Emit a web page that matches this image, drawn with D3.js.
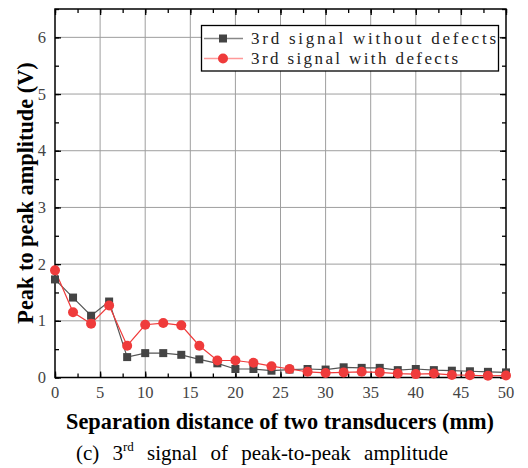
<!DOCTYPE html>
<html><head><meta charset="utf-8">
<script src="https://cdn.jsdelivr.net/npm/d3@7/dist/d3.min.js"></script>
<style>html,body{margin:0;padding:0;background:#fff;} .serif{font-family:"Liberation Serif","Times New Roman",serif;}</style>
</head><body>
<svg id="c" width="528" height="468"></svg>
<script>
const distances = [0,2,4,6,8,10,12,14,16,18,20,22,24,26,28,30,32,34,36,38,40,42,44,46,48,50];
const withoutDefects = [1.73,1.41,1.09,1.34,0.36,0.43,0.43,0.40,0.32,0.25,0.15,0.15,0.12,0.14,0.15,0.14,0.18,0.17,0.17,0.13,0.15,0.13,0.12,0.11,0.10,0.09];
const withDefects = [1.89,1.15,0.95,1.27,0.56,0.93,0.96,0.92,0.56,0.30,0.30,0.26,0.20,0.15,0.10,0.08,0.09,0.10,0.09,0.07,0.06,0.07,0.045,0.04,0.03,0.035];
const xTicks = [0,5,10,15,20,25,30,35,40,45,50];
const yTicks = [0,1,2,3,4,5,6];
const seriesNames = ["3rd signal without defects","3rd signal with defects"];

const svg = d3.select("#c");
const L=55, R=506, T=9, B=377.5;
const x = d3.scaleLinear().domain([0,50]).range([L,R]);
const y = d3.scaleLinear().domain([0,6.5]).range([B,T]);

const g = svg.append("g");
g.selectAll(".gx").data(xTicks.slice(1,-1)).enter().append("line")
  .attr("x1",d=>x(d)).attr("x2",d=>x(d)).attr("y1",T).attr("y2",B)
  .attr("stroke","#9e9e9e").attr("stroke-width",1);
g.selectAll(".gy").data(yTicks.slice(1)).enter().append("line")
  .attr("x1",L).attr("x2",R).attr("y1",d=>y(d)).attr("y2",d=>y(d))
  .attr("stroke","#9e9e9e").attr("stroke-width",1);

const minorX = d3.range(0,50.1,2.5), minorY = d3.range(0,6.51,0.5);
function style(sel){sel.select(".domain").remove(); sel.selectAll("line").attr("stroke","#000").attr("stroke-width",1.3);}
svg.append("g").attr("transform",`translate(0,${B})`).call(d3.axisBottom(x).tickValues(minorX).tickSize(-4).tickFormat("")).call(style);
svg.append("g").attr("transform",`translate(0,${T})`).call(d3.axisTop(x).tickValues(minorX).tickSize(-4).tickFormat("")).call(style);
svg.append("g").attr("transform",`translate(${L},0)`).call(d3.axisLeft(y).tickValues(minorY).tickSize(-4).tickFormat("")).call(style);
svg.append("g").attr("transform",`translate(${R},0)`).call(d3.axisRight(y).tickValues(minorY).tickSize(-4).tickFormat("")).call(style);
svg.append("g").attr("transform",`translate(0,${B})`).call(d3.axisBottom(x).tickValues(xTicks).tickSize(-6).tickFormat("")).call(style);
svg.append("g").attr("transform",`translate(0,${T})`).call(d3.axisTop(x).tickValues(xTicks).tickSize(-6).tickFormat("")).call(style);
svg.append("g").attr("transform",`translate(${L},0)`).call(d3.axisLeft(y).tickValues(yTicks).tickSize(-6).tickFormat("")).call(style);
svg.append("g").attr("transform",`translate(${R},0)`).call(d3.axisRight(y).tickValues(yTicks).tickSize(-6).tickFormat("")).call(style);

svg.append("rect").attr("x",L).attr("y",T).attr("width",R-L).attr("height",B-T)
  .attr("fill","none").attr("stroke","#000").attr("stroke-width",1.5);

svg.append("g").selectAll("text").data(xTicks).enter().append("text").attr("class","serif")
  .attr("x",d=>x(d)).attr("y",398).attr("text-anchor","middle")
  .attr("font-size",16.5).attr("fill","#444").text(d=>d);
svg.append("g").selectAll("text").data(yTicks).enter().append("text").attr("class","serif")
  .attr("x",46).attr("y",d=>y(d)+5.5).attr("text-anchor","end")
  .attr("font-size",16.5).attr("fill","#444").text(d=>d);

const line = d3.line().x((d,i)=>x(distances[i])).y(d=>y(d));
svg.append("path").datum(withoutDefects).attr("d",line).attr("fill","none").attr("stroke","#555").attr("stroke-width",1.2);
svg.append("path").datum(withDefects).attr("d",line).attr("fill","none").attr("stroke","#f03a3a").attr("stroke-width",1.2);
svg.append("g").selectAll("rect").data(withoutDefects).enter().append("rect")
  .attr("x",(d,i)=>x(distances[i])-4).attr("y",d=>y(d)-4).attr("width",8).attr("height",8).attr("fill","#444");
svg.append("g").selectAll("circle").data(withDefects).enter().append("circle")
  .attr("cx",(d,i)=>x(distances[i])).attr("cy",d=>y(d)).attr("r",5).attr("fill","#ef3b3b");

const lg = svg.append("g");
lg.append("rect").attr("x",201.5).attr("y",25.5).attr("width",297).attr("height",45.5)
  .attr("fill","#fff").attr("stroke","#000").attr("stroke-width",1.3);
const ly = [38.5,58.5];
lg.append("line").attr("x1",204).attr("x2",243).attr("y1",ly[0]).attr("y2",ly[0]).attr("stroke","#888").attr("stroke-width",1.5);
lg.append("rect").attr("x",219).attr("y",ly[0]-4).attr("width",8).attr("height",8).attr("fill","#444");
lg.append("line").attr("x1",204).attr("x2",243).attr("y1",ly[1]).attr("y2",ly[1]).attr("stroke","#f99").attr("stroke-width",1.5);
lg.append("circle").attr("cx",223).attr("cy",ly[1]).attr("r",5).attr("fill","#ef3b3b");
lg.selectAll("text").data(seriesNames).enter().append("text").attr("class","serif")
  .attr("x",251).attr("y",(d,i)=>ly[i]+5.5)
  .attr("font-size",17).attr("fill","#222")
  .attr("textLength",(d,i)=>i===0?245:207).attr("lengthAdjust","spacing").text(d=>d);

svg.append("text").attr("class","serif").attr("x",280).attr("y",429).attr("text-anchor","middle")
  .attr("font-weight","bold").attr("font-size",22.3).attr("fill","#000")
  .text("Separation distance of two transducers (mm)");
svg.append("text").attr("class","serif").attr("transform","translate(33,193) rotate(-90)").attr("text-anchor","middle")
  .attr("font-weight","bold").attr("font-size",22.3).attr("fill","#000")
  .text("Peak to peak amplitude (V)");

const cap = svg.append("text").attr("class","serif").attr("x",262).attr("y",460).attr("text-anchor","middle")
  .attr("font-size",21).attr("fill","#000").attr("word-spacing",8);
cap.append("tspan").text("(c) 3");
cap.append("tspan").attr("font-size",13).attr("dy",-9).text("rd");
cap.append("tspan").attr("dy",9).text(" signal of peak-to-peak amplitude");
</script>
</body></html>
